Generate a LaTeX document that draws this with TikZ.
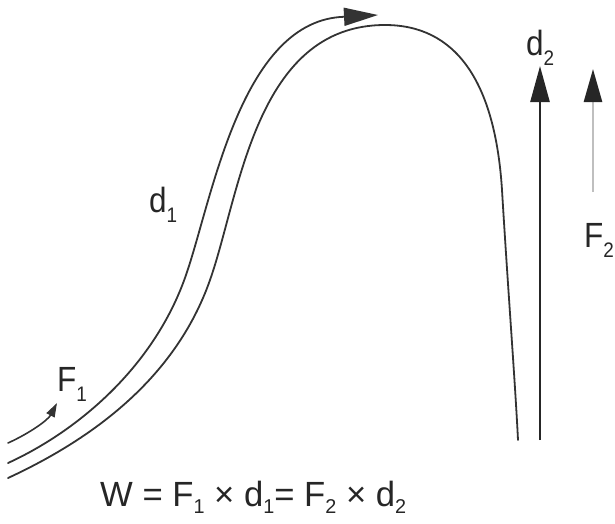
\documentclass[tikz,border=0pt]{standalone}
\usepackage{fontspec}
\setmainfont{Liberation Sans}
\usetikzlibrary{arrows.meta}
\newcommand{\lsub}[1]{\raisebox{-0.3em}{\fontsize{21}{21}\selectfont #1}}
\newcommand{\fsub}[1]{\raisebox{-0.2em}{\fontsize{20}{20}\selectfont #1}}
\begin{document}
\begin{tikzpicture}[x=1pt,y=-1pt,
  curve/.style={line width=1.8pt, black!80, line cap=round},
  lbl/.style={font=\fontsize{35}{35}\selectfont, inner sep=0pt, anchor=base west, text=black!85, xscale=0.9}]
\useasboundingbox (0,0) rectangle (615,523);
% hill (lower) curve
\draw[curve] (8,478) .. controls (90,440) and (175,380) .. (210,280)
  .. controls (240,195) and (255,25) .. (385,25)
  .. controls (455,25) and (495,80) .. (502,190)
  .. controls (508,290) and (515,380) .. (518,440);
% d1 path (middle) curve with arrow
\draw[curve, -{Triangle[length=34pt,width=18pt]}] (8,463) .. controls (80,430) and (155,365) .. (186,275)
  .. controls (212,200) and (240,25) .. (340,17) -- (378,15);
% F1 arrow
\coordinate (f1s) at (8,443);
\coordinate (f1e) at (57,403);
\draw[curve, line width=1.6pt, -{Triangle[length=14pt,width=9pt]}] (f1s) .. controls (30,433) and (48,420) .. (f1e);
% d2 arrow
\coordinate (d2s) at (540,440);
\coordinate (d2e) at (540,66);
\draw[line width=2.6pt, black!85, -{Triangle[length=36pt,width=19pt]}] (d2s) -- (d2e);
% F2 arrow
\coordinate (f2s) at (593,192);
\coordinate (f2e) at (593,69);
\draw[line width=2.6pt, gray!50, -{Triangle[length=33pt,width=18pt,color=black!85]}] (f2s) -- (f2e);
% labels
\node[lbl] (F1) at (57,391) {F\lsub{1}};
\node[lbl] (d1) at (149,212) {d\lsub{1}};
\node[lbl] (d2) at (526,55) {d\lsub{2}};
\node[lbl] (F2) at (584,247) {F\lsub{2}};
\node[lbl, xscale=1.1] (W) at (100,506) {W = F\fsub{1} × d\fsub{1}= F\fsub{2} × d\fsub{2}};
\end{tikzpicture}
\end{document}
